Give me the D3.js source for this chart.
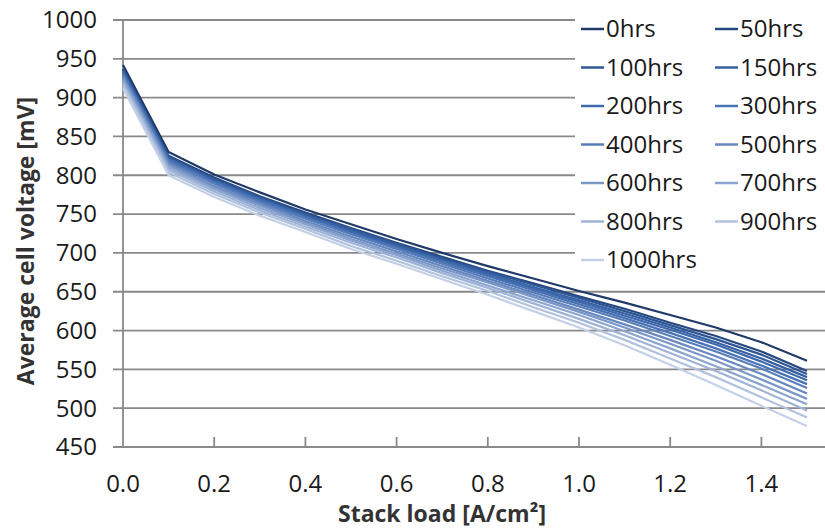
<!DOCTYPE html>
<html><head><meta charset="utf-8">
<script src="https://cdn.jsdelivr.net/npm/d3@7"></script>
<style>
html,body{margin:0;padding:0;background:#fff;}
svg{display:block;font-family:"Open Sans",sans-serif;}
</style></head>
<body><svg id="c" width="825" height="530"></svg>
<script>
const loads = [0.0,0.1,0.2,0.3,0.4,0.5,0.6,0.7,0.8,0.9,1.0,1.1,1.2,1.3,1.4,1.5];
const seriesNames = ["0hrs","50hrs","100hrs","150hrs","200hrs","300hrs","400hrs","500hrs","600hrs","700hrs","800hrs","900hrs","1000hrs"];
const v0    = [942,830,801,778,756,737,718,700,683,667,651,636,620,604,585,561];
const v50   = [937,825,797,773,752,732,713,695,677,661,644,628,610,593,573,548];
const v100  = [936,824,795,772,750,731,712,693,676,659,642,625,607,589,569,544];
const v150  = [934,822,794,770,749,729,710,691,674,656,639,622,604,585,564,540];
const v200  = [933,821,792,769,747,727,708,690,672,654,637,619,601,582,560,536];
const v300  = [931,819,791,767,746,725,706,688,670,652,634,616,597,577,555,531];
const v400  = [929,817,789,765,744,724,705,686,667,649,631,613,593,573,551,526];
const v500  = [927,815,786,763,741,721,702,683,664,646,627,608,588,567,544,519];
const v600  = [925,813,784,761,739,718,699,680,662,643,624,604,583,561,537,512];
const v700  = [922,810,782,758,737,716,697,677,658,639,620,599,577,554,530,505];
const v800  = [919,807,779,755,734,713,694,674,655,635,615,594,571,548,523,497];
const v900  = [916,804,776,752,731,709,690,670,651,630,610,588,564,540,514,488];
const v1000 = [912,800,772,748,727,705,686,666,646,625,604,581,556,530,503,477];
const seriesValues = [v0,v50,v100,v150,v200,v300,v400,v500,v600,v700,v800,v900,v1000];
const colors = ["#1F3A68","#27487F","#2E5594","#3560A3","#3E69AD","#4A73B4","#587EBA","#6889C0","#7A97C8","#8CA5CF","#9EB3D7","#B1C2DF","#C4D0E7"];
const yTicks = [450,500,550,600,650,700,750,800,850,900,950,1000];
const xTicks = [0.0,0.2,0.4,0.6,0.8,1.0,1.2,1.4];

const svg = d3.select("#c");
const x = d3.scaleLinear().domain([0,1.5]).range([123,807]);
const y = d3.scaleLinear().domain([450,1000]).range([447,20]);
const grid = "#898989";

// gridlines
svg.append("g").selectAll("line").data(yTicks).join("line")
  .attr("x1",113).attr("x2",825)
  .attr("y1",d=>y(d)).attr("y2",d=>y(d))
  .attr("stroke",grid).attr("stroke-width",1.8);
// y axis line
svg.append("line").attr("x1",x(0)).attr("x2",x(0)).attr("y1",y(1000)).attr("y2",y(450))
  .attr("stroke",grid).attr("stroke-width",1.8);
// x ticks (inside)
svg.append("g").selectAll("line").data(xTicks.filter(d=>d>0)).join("line")
  .attr("x1",d=>x(d)).attr("x2",d=>x(d)).attr("y1",y(450)).attr("y2",y(450)-10)
  .attr("stroke",grid).attr("stroke-width",1.8);

// y labels
svg.append("g").selectAll("text").data(yTicks).join("text")
  .attr("x",97).attr("y",d=>y(d)).attr("dy","0.35em")
  .attr("text-anchor","end").attr("font-size",24).attr("fill","#1a1a1a")
  .text(d=>d);
// x labels
svg.append("g").selectAll("text").data(xTicks).join("text")
  .attr("x",d=>x(d)).attr("y",492)
  .attr("text-anchor","middle").attr("font-size",24).attr("fill","#1a1a1a")
  .text(d=>d.toFixed(1));

// lines
const line = d3.line().x((d,i)=>x(loads[i])).y(d=>y(d));
svg.append("g").selectAll("path").data(seriesValues).join("path")
  .attr("d",d=>line(d)).attr("fill","none")
  .attr("stroke",(d,i)=>colors[i]).attr("stroke-width",2.2)
  .attr("stroke-linejoin","round");

// legend
const lg = svg.append("g");
lg.append("rect").attr("x",575).attr("y",8).attr("width",250).attr("height",270).attr("fill","#fff");
seriesNames.forEach((n,i)=>{
  const col = i%2, row = Math.floor(i/2);
  const lx = col===0 ? 581 : 715;
  const ly = 29 + row*38.5;
  lg.append("line").attr("x1",lx).attr("x2",lx+23).attr("y1",ly).attr("y2",ly)
    .attr("stroke",colors[i]).attr("stroke-width",2.5);
  lg.append("text").attr("x",lx+25).attr("y",ly).attr("dy","0.35em")
    .attr("font-size",24).attr("fill","#1a1a1a").text(n);
});

// axis titles
svg.append("text").attr("x",442).attr("y",522).attr("text-anchor","middle")
  .attr("font-size",23).attr("font-weight","bold").attr("fill","#333")
  .text("Stack load [A/cm²]");
svg.append("text").attr("transform","translate(34,241) rotate(-90)")
  .attr("text-anchor","middle").attr("font-size",23).attr("font-weight","bold").attr("fill","#333")
  .text("Average cell voltage [mV]");
</script></body></html>
